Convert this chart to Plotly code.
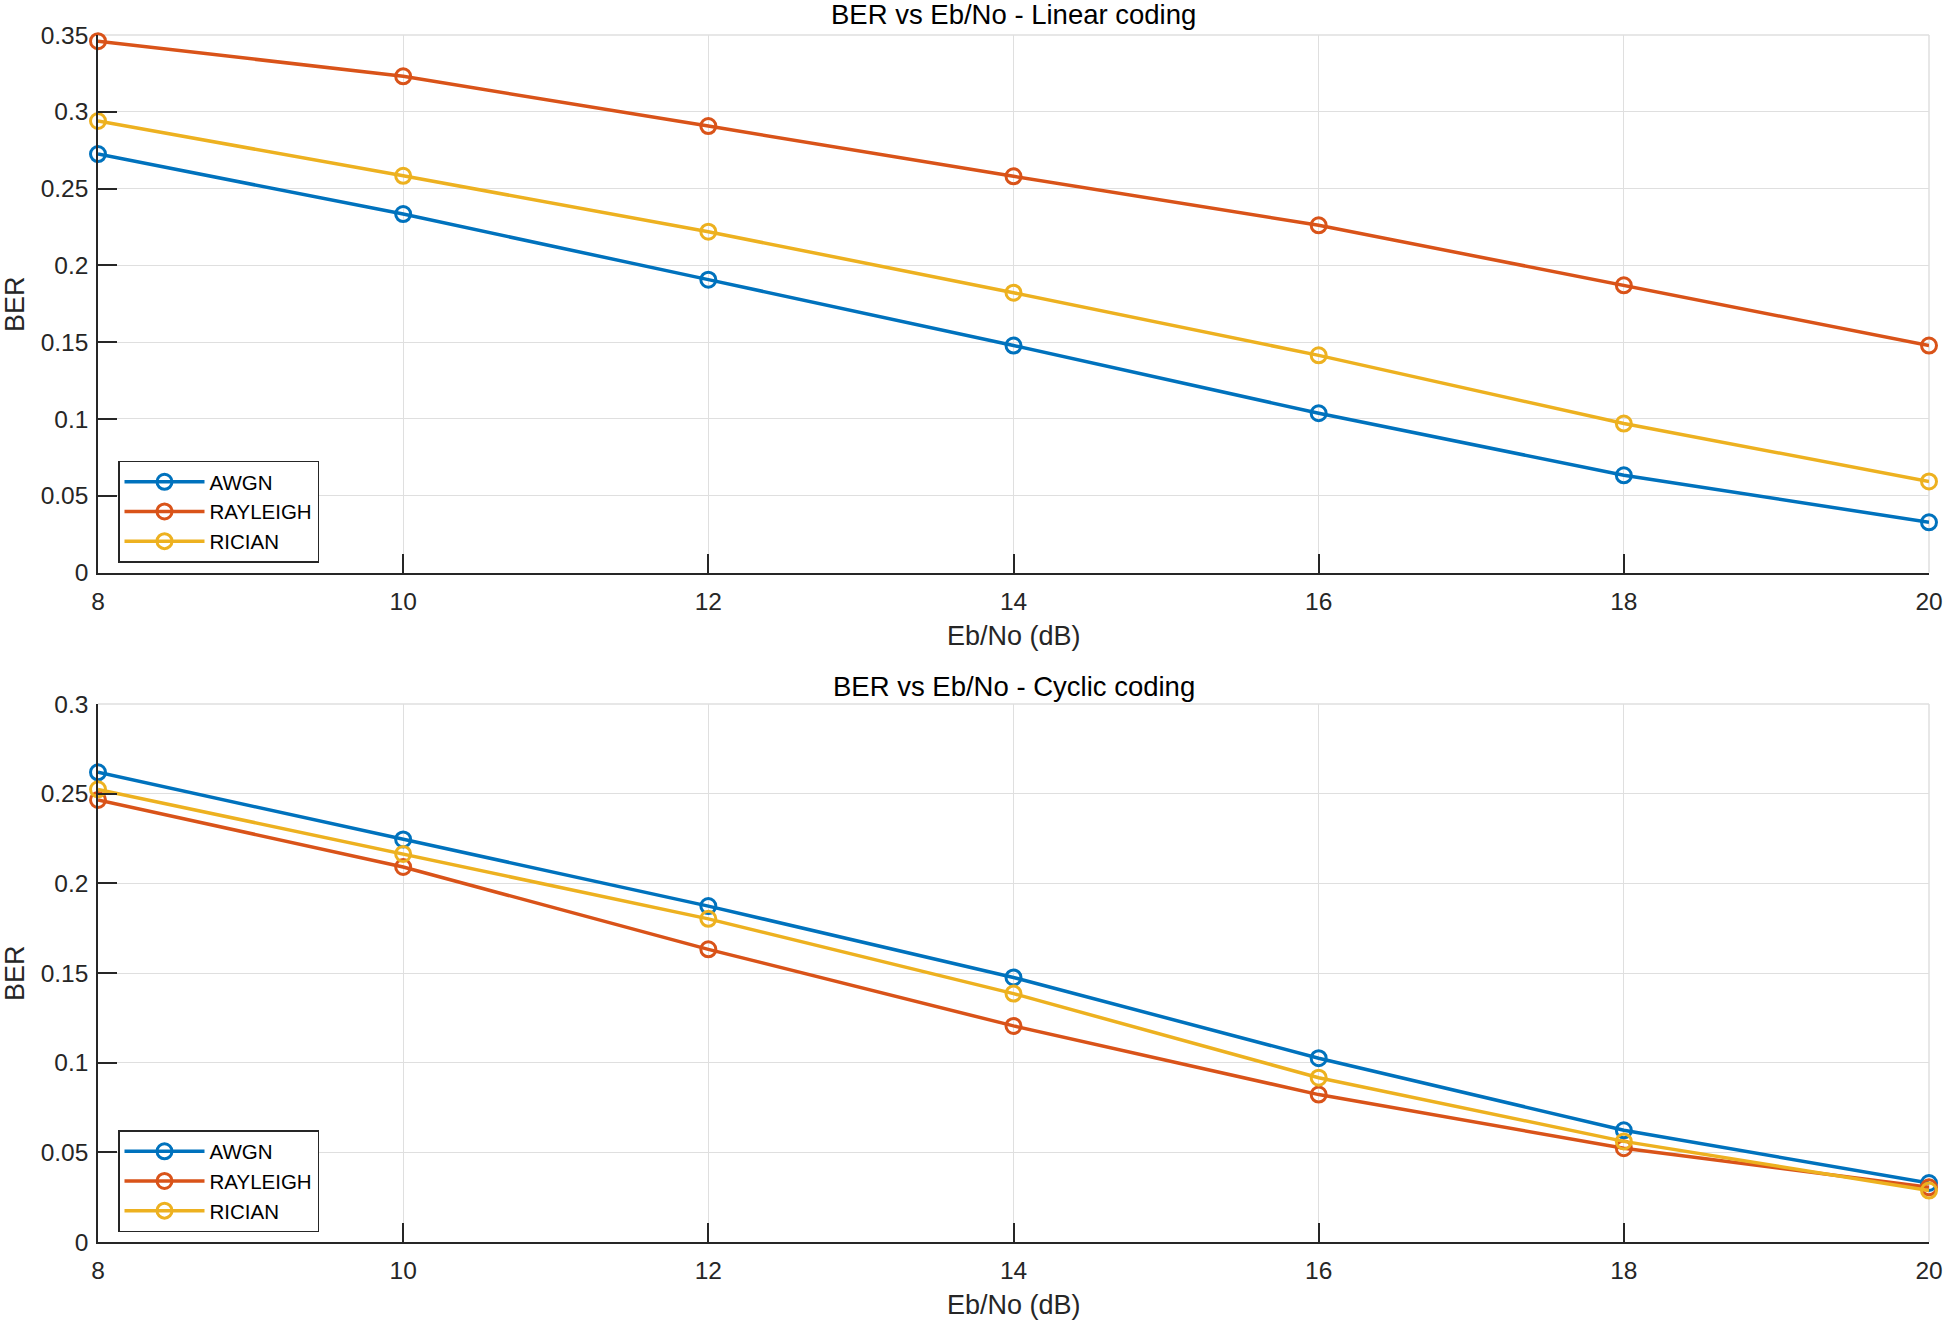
import plotly.graph_objects as go

# ---------------- data ----------------
ebno = [8, 10, 12, 14, 16, 18, 20]
series_names = ["AWGN", "RAYLEIGH", "RICIAN"]

linear_awgn = [0.2725, 0.2334, 0.1907, 0.1478, 0.1037, 0.0633, 0.0327]
linear_rayleigh = [0.3460, 0.3231, 0.2907, 0.2580, 0.2261, 0.1870, 0.1478]
linear_rician = [0.2940, 0.2583, 0.2219, 0.1822, 0.1414, 0.0970, 0.0593]

cyclic_awgn = [0.2619, 0.2245, 0.1873, 0.1475, 0.1025, 0.0623, 0.0329]
cyclic_rayleigh = [0.2465, 0.2091, 0.1632, 0.1205, 0.0822, 0.0523, 0.0305]
cyclic_rician = [0.2524, 0.2164, 0.1802, 0.1385, 0.0916, 0.0561, 0.0287]

x_ticks = [8, 10, 12, 14, 16, 18, 20]
x_tick_labels = ["8", "10", "12", "14", "16", "18", "20"]
y1_ticks = [0, 0.05, 0.1, 0.15, 0.2, 0.25, 0.3, 0.35]
y1_tick_labels = ["0", "0.05", "0.1", "0.15", "0.2", "0.25", "0.3", "0.35"]
y2_ticks = [0, 0.05, 0.1, 0.15, 0.2, 0.25, 0.3]
y2_tick_labels = ["0", "0.05", "0.1", "0.15", "0.2", "0.25", "0.3"]

title_top = "BER vs Eb/No - Linear coding"
title_bottom = "BER vs Eb/No - Cyclic coding"
x_label = "Eb/No (dB)"
y_label = "BER"

# ---------------- style ----------------
colors = ["#0072BD", "#D95319", "#EDB120"]
FONT = "Liberation Sans, Arial, Helvetica, sans-serif"
AX = "#262626"
GRID = "#DFDFDF"

W, H = 1946, 1326
L, R, T, B = 98, 17, 35, 84
plot_h = H - T - B
plot_w = W - L - R
top_dom = [1 - (572.5 - T) / plot_h, 1.0]
bot_dom = [0.0, 1 - (704 - T) / plot_h]

fig = go.Figure()

top_data = [linear_awgn, linear_rayleigh, linear_rician]
bot_data = [cyclic_awgn, cyclic_rayleigh, cyclic_rician]

def add_series(ys_list, xa, ya, leg):
    for name, ys, c in zip(series_names, ys_list, colors):
        fig.add_trace(go.Scatter(
            x=ebno, y=ys, name=name, mode="lines+markers",
            line=dict(color=c, width=3.5),
            marker=dict(symbol="circle-open", size=15, color=c,
                        line=dict(width=3, color=c)),
            xaxis=xa, yaxis=ya, legend=leg, cliponaxis=False,
        ))

add_series(top_data, "x", "y", "legend")
add_series(bot_data, "x2", "y2", "legend2")

common = dict(
    showgrid=True, gridcolor=GRID, gridwidth=1,
    showline=True, linecolor=AX, linewidth=1.5,
    ticks="inside", ticklen=19, tickwidth=1.5, tickcolor=AX,
    tickfont=dict(family=FONT, size=24.5, color=AX),
    zeroline=False, fixedrange=True, automargin=False,
)
xcommon = dict(**common, range=[8, 20], tickvals=x_ticks, ticktext=x_tick_labels,
               ticklabelstandoff=6)
ycommon = dict(**common, ticklabelstandoff=3)

legend_common = dict(
    bgcolor="white", bordercolor=AX, borderwidth=1.5,
    font=dict(family=FONT, size=20.5, color="black"),
    xanchor="left", yanchor="top", itemwidth=80,
    tracegroupgap=0, itemclick=False, itemdoubleclick=False,
)

fig.update_layout(
    width=W, height=H,
    margin=dict(l=L, r=R, t=T, b=B, autoexpand=False),
    paper_bgcolor="white", plot_bgcolor="white",
    showlegend=True,
    xaxis=dict(**xcommon, domain=[0, 1], anchor="y"),
    yaxis=dict(**ycommon, domain=top_dom, anchor="x", range=[0, 0.35],
               tickvals=y1_ticks, ticktext=y1_tick_labels),
    xaxis2=dict(**xcommon, domain=[0, 1], anchor="y2"),
    yaxis2=dict(**ycommon, domain=bot_dom, anchor="x2", range=[0, 0.3],
                tickvals=y2_ticks, ticktext=y2_tick_labels),
    legend=dict(**legend_common, x=(118 - L) / plot_w, y=(H - B - 460.5) / plot_h),
    legend2=dict(**legend_common, x=(118 - L) / plot_w, y=(H - B - 1130) / plot_h),
)

def py(p):
    return (H - B - p) / plot_h

annots = [
    dict(text=title_top, x=0.5, y=py(15), size=27.5, color="black"),
    dict(text=title_bottom, x=0.5, y=py(686), size=27.5, color="black"),
    dict(text=x_label, x=0.5, y=py(636), size=27, color=AX),
    dict(text=x_label, x=0.5, y=py(1305), size=27, color=AX),
]
for a in annots:
    fig.add_annotation(text=a["text"], xref="paper", yref="paper", x=a["x"], y=a["y"],
                       xanchor="center", yanchor="middle", showarrow=False,
                       font=dict(family=FONT, size=a["size"], color=a["color"]))
for yc in [304, 973]:
    fig.add_annotation(text=y_label, xref="paper", yref="paper", x=(15 - L) / plot_w,
                       y=py(yc), xanchor="center", yanchor="middle", textangle=-90,
                       showarrow=False, font=dict(family=FONT, size=27, color=AX))

# light box edges on top and right (MATLAB grid at limits)
for xr, yr in [("x domain", "y domain"), ("x2 domain", "y2 domain")]:
    fig.add_shape(type="line", xref=xr, yref=yr, x0=0, x1=1, y0=1, y1=1,
                  line=dict(color=GRID, width=1.5), layer="below")
    fig.add_shape(type="line", xref=xr, yref=yr, x0=1, x1=1, y0=0, y1=1,
                  line=dict(color=GRID, width=1.5), layer="below")

fig.write_html("out.html")
